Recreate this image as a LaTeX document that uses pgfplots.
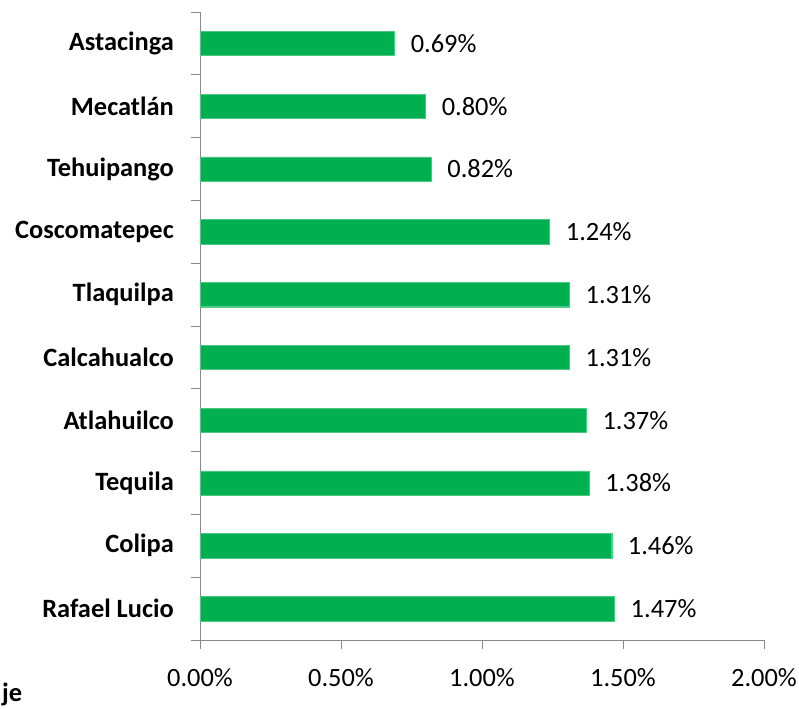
\documentclass[border=0pt]{standalone}
\usepackage{fontspec}
\setmainfont{Carlito}
\usepackage{pgfplots}
\pgfplotsset{compat=1.18}
\definecolor{barg}{HTML}{00B050}
\definecolor{axg}{HTML}{898989}
\begin{document}
\begin{tikzpicture}
\useasboundingbox (-200bp,-69bp) rectangle (599bp,640bp);
\begin{axis}[
  at={(0,0)}, anchor=south west,
  scale only axis, width=564bp, height=628bp,
  xbar, bar width=24.3bp,
  xmin=0, xmax=2, ymin=-0.5, ymax=9.5,
  axis x line=bottom, axis y line=left,
  axis line style={axg, line width=0.8bp, -},
  tick align=outside,
  major tick length=9bp, minor tick length=9bp,
  xtick={0,0.5,1,1.5,2},
  xtick style={axg, line width=0.8bp},
  xticklabel={\pgfmathprintnumber[fixed,fixed zerofill,precision=2]{\tick}\%},
  /pgf/number format/assume math mode=true,
  xticklabel style={font=\fontsize{26.5}{31}\selectfont, inner sep=0pt, yshift=-19bp},
  ytick={0,...,9},
  yticklabels={Rafael Lucio, Colipa, Tequila, Atlahuilco, Calcahualco, Tlaquilpa, Coscomatepec, Tehuipango, Mecatlán, Astacinga},
  major y tick style={draw=none},
  minor ytick={-0.5,0.5,...,9.5},
  minor y tick style={axg, line width=0.8bp},
  yticklabel style={font=\fontsize{26.5}{31}\selectfont\bfseries, inner sep=0pt, xshift=-17bp},
  nodes near coords={\pgfmathprintnumber[fixed,fixed zerofill,precision=2]{\pgfplotspointmeta}\%},
  point meta=x,
  every node near coord/.append style={font=\fontsize{26.5}{31}\selectfont, anchor=west, inner sep=0pt, xshift=16bp, black},
  clip=false,
]
\addplot[fill=barg, draw=barg!70!white, line width=0.4bp] coordinates {
  (1.47,0) (1.46,1) (1.38,2) (1.37,3) (1.31,4) (1.31,5) (1.24,6) (0.82,7) (0.80,8) (0.69,9)
};
\end{axis}
\node[anchor=base west, inner sep=0pt, font=\fontsize{26.5}{31}\selectfont\bfseries] at (-198bp,-61.5bp) {je};
\end{tikzpicture}
\end{document}
